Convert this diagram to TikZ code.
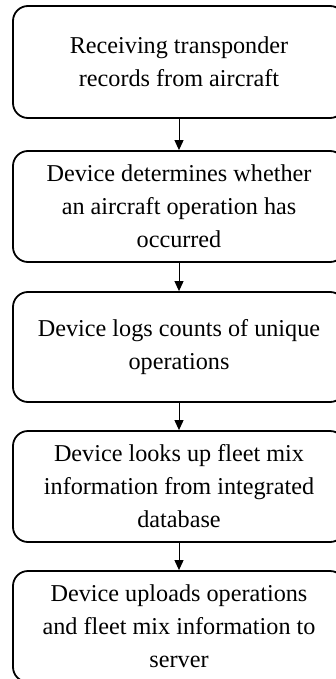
\documentclass[tikz,border=0pt]{standalone}
\usepackage{fontspec}
\setmainfont{Liberation Serif}
\usetikzlibrary{arrows.meta}
\begin{document}
\begin{tikzpicture}[x=1pt,y=-1pt,
  flowbox/.style={draw=black, line width=1.8pt, rounded corners=15pt,
    minimum width=332pt, align=center, inner sep=0pt,
    font=\fontsize{24.2pt}{33pt}\selectfont, fill=white},
  flowarrow/.style={draw=black, line width=1pt, -{Triangle[width=9pt,length=10pt]}}]
\useasboundingbox (0,0) rectangle (336,679);
\clip (0,0) rectangle (336,679);
\node[flowbox, minimum height=112pt] (b1) at (179,62) {Receiving transponder\\records from aircraft};
\node[flowbox, minimum height=111pt] (b2) at (179,206.5) {Device determines whether\\an aircraft operation has\\occurred};
\node[flowbox, minimum height=110pt] (b3) at (179,347) {Device logs counts of unique\\operations};
\node[flowbox, minimum height=111pt] (b4) at (179,486.5) {Device looks up fleet mix\\information from integrated\\database};
\node[flowbox, minimum height=111pt] (b5) at (179,626.5) {Device uploads operations\\and fleet mix information to\\server};
\draw[flowarrow] (b1.south) -- (b2.north);
\draw[flowarrow] (b2.south) -- (b3.north);
\draw[flowarrow] (b3.south) -- (b4.north);
\draw[flowarrow] (b4.south) -- (b5.north);
\end{tikzpicture}
\end{document}
